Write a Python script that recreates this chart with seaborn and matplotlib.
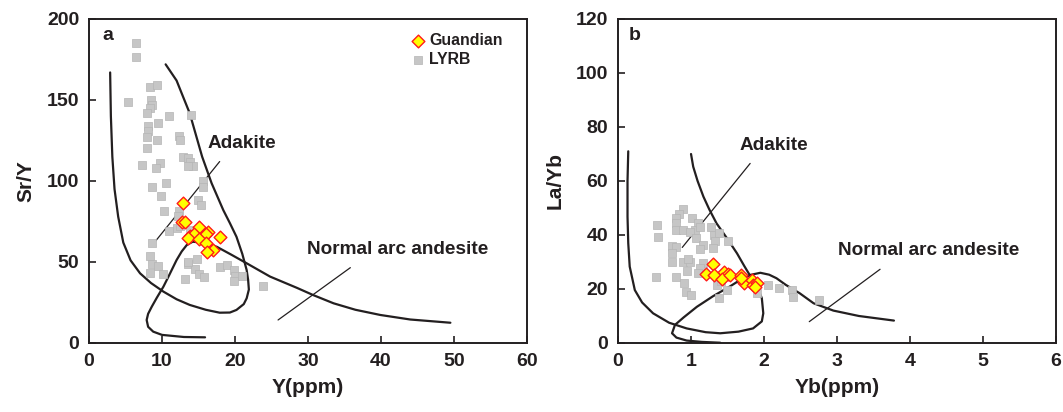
"""
Sr/Y vs Y and La/Yb vs Yb discrimination diagrams (adakite vs normal arc andesite)
"""
import matplotlib
matplotlib.use("Agg")
import matplotlib.pyplot as plt
import pandas as pd
import seaborn as sns

# ─ Data ───────────────────────────────────────────────────────────────────── #
# panel a : Y (ppm) vs Sr/Y
guan_y = [12.9, 12.7, 13.15, 15.1, 16.35, 16.0, 13.8, 14.4, 13.6, 15.1, 17.95, 16.0, 17.0, 16.1]
guan_sry = [86.2, 74.9, 74.5, 71.4, 68.7, 67.3, 66.2, 67.0, 64.6, 64.0, 65.2, 61.9, 57.4, 56.4]

lyrb_y = [6.5, 6.5, 8.4, 9.3, 5.4, 8.45, 8.7, 8.3, 7.9, 11.0, 14.0, 9.5, 8.1, 8.1, 7.9,
          9.3, 12.3, 12.5, 8.0, 12.9, 13.5, 13.8, 14.3, 13.6, 9.7, 9.2, 7.3, 15.6, 15.6,
          10.5, 8.7, 9.8, 14.9, 15.3, 10.3, 12.3, 12.2, 10.9, 12.0, 12.5, 13.8, 8.7, 8.4,
          8.7, 9.5, 8.4, 10.1, 13.5, 14.8, 14.5, 15.1, 15.8, 13.2, 17.9, 18.9, 19.9, 20.0,
          20.9, 19.9, 23.9, 13.6]
lyrb_sry = [185.4, 176.3, 158, 159, 149, 150, 147, 145, 142, 140, 141, 136, 134, 131, 127,
            125, 128, 125, 120.6, 114.6, 114, 112, 109, 109, 111, 108, 110, 100, 96.5,
            99, 96.5, 91, 88, 85, 81.7, 81.5, 78.6, 69.3, 70.8, 72, 69.8, 62, 53.7,
            48.5, 47.5, 43.4, 42.6, 48.8, 51.6, 45.4, 42.6, 40.5, 39.3, 46.7, 48.1, 45, 41.4,
            41.4, 38.5, 35.2, 50]

# field boundaries, panel a
adk_a_x = [2.9, 3.0, 3.2, 3.5, 4.0, 4.7, 5.7, 7.0, 8.5, 10.2, 12.0, 13.8, 16.0, 17.9, 19.3,
           20.2, 21.2, 21.6, 21.9, 21.8, 21.6, 21.0, 20.2, 19.3, 18.4, 16.8, 15.5, 13.8,
           12.8, 12.0, 10.5]
adk_a_y = [167, 140, 115, 95, 78, 62, 51, 43, 37, 31.7, 27, 23.5, 20.5, 18.7, 18.8,
           20.4, 24, 27.6, 33, 38.9, 45, 55, 65.6, 74, 82, 98.6, 115, 141.8,
           153, 162, 172]
arc_a_x = [15.9, 13.0, 10.0, 8.8, 8.1, 7.9, 8.1, 8.6, 9.3, 10.2, 11.0, 12.0, 12.7, 13.4,
           14.2, 15.5, 17.5, 19.5, 21.6, 24.8, 28.5, 30.7, 33.5, 36.5, 39.9, 44.0, 49.5]
arc_a_y = [3.5, 3.7, 5.0, 7.0, 10.0, 14.2, 18.0, 22.4, 28.0, 34.8, 42.0, 51.2, 56.5, 60.5,
           62.5, 62.0, 59.4, 54.5, 49.2, 41.0, 34.0, 29.6, 24.5, 20.5, 17.3, 14.5, 12.5]
tie_adk_a_x, tie_adk_a_y = [8.6, 17.9], [60, 112]
tie_arc_a_x, tie_arc_a_y = [25.9, 35.8], [14.2, 46.5]

# panel b : Yb (ppm) vs La/Yb
guan_yb = [1.30, 1.21, 1.31, 1.45, 1.51, 1.43, 1.53, 1.68, 1.73, 1.83, 1.85, 1.90, 1.69, 1.87]
guan_layb = [29.3, 25.6, 25.2, 26.4, 25.6, 23.7, 25.2, 25.2, 22.1, 23.3, 21.5, 22.1, 24.0, 20.9]

lyrb_yb = [0.886, 0.83, 0.80, 0.80, 0.54, 0.79, 0.89, 1.02, 1.09, 1.05, 1.12, 1.27, 0.99,
           0.55, 1.07, 1.32, 1.39, 1.33, 1.51, 1.17, 1.30, 0.74, 0.80, 1.12, 0.74, 0.74,
           0.89, 0.99, 0.96, 1.17, 1.12, 0.94, 1.10, 0.52, 0.80, 0.91, 0.93, 1.00, 1.39,
           1.35, 1.49, 1.41, 1.90, 2.06, 2.20, 2.39, 2.40, 2.76]
lyrb_layb = [49.5, 47.7, 46.2, 44.3, 43.7, 41.9, 41.9, 46.4, 44.6, 41.9, 43.1, 43.1, 41.2,
             39.4, 38.8, 40.0, 40.6, 37.9, 37.9, 36.3, 35.1, 35.9, 35.7, 34.7, 33.2, 30.1,
             30.1, 30.1, 31.0, 29.5, 27.7, 26.8, 25.8, 24.6, 24.6, 22.3, 19.0, 17.8, 16.6,
             21.5, 19.6, 23.0, 18.4, 21.5, 20.2, 19.6, 17.1, 15.9]

adk_b_x = [0.14, 0.13, 0.13, 0.14, 0.16, 0.23, 0.33, 0.48, 0.70, 0.94, 1.20, 1.40, 1.65,
           1.85, 1.97, 1.99, 1.97, 1.92, 1.83, 1.73, 1.63, 1.50, 1.35, 1.25, 1.17, 1.09,
           1.03, 1.00]
adk_b_y = [71, 60, 46.8, 37, 28.3, 19.6, 15, 11, 7.5, 5.4, 4.0, 3.6, 4.2,
           5.4, 8, 11, 16.6, 20, 24, 28.5, 33.2, 38.5, 44.3, 49.5, 54.2, 60,
           65.3, 70]
arc_b_x = [1.40, 1.15, 0.94, 0.80, 0.74, 0.78, 0.90, 1.08, 1.30, 1.53, 1.70, 1.81, 1.95,
           2.07, 2.17, 2.30, 2.49, 2.68, 2.95, 3.30, 3.78]
arc_b_y = [0.1, 0.4, 0.9, 2.0, 3.6, 6.7, 9.5, 13.4, 17.3, 20.9, 23.8, 25.2, 26.0,
           25.3, 24.0, 21.5, 18.4, 14.7, 12.0, 10.0, 8.3]
tie_adk_b_x, tie_adk_b_y = [0.88, 1.81], [35.4, 66.5]
tie_arc_b_x, tie_arc_b_y = [2.62, 3.59], [7.9, 27.3]

# ─ Style ──────────────────────────────────────────────────────────────────── #
TXT = "#231f20"
GRAY = "#c6c6c6"
sns.set_theme(style="ticks")
plt.rcParams["font.family"] = ["Liberation Sans", "DejaVu Sans"]
plt.rcParams.update({
    "font.weight": "bold",
    "axes.labelweight": "bold",
    "text.color": TXT,
    "axes.labelcolor": TXT,
    "axes.edgecolor": TXT,
    "xtick.color": TXT,
    "ytick.color": TXT,
    "axes.linewidth": 1.4,
})

fig = plt.figure(figsize=(10.63, 4.12), dpi=100)
ax_a = fig.add_axes([0.0837, 0.1675, 0.4121, 0.7864])
ax_b = fig.add_axes([0.5814, 0.1675, 0.4120, 0.7864])


def draw_panel(ax, gx, gy, lx, ly, adk_x, adk_y, arc_x, arc_y, tie1, tie2):
    dfl = pd.DataFrame({"x": lx, "y": ly})
    dfg = pd.DataFrame({"x": gx, "y": gy})
    sns.scatterplot(data=dfl, x="x", y="y", ax=ax, marker="s", s=36, color=GRAY,
                    edgecolor="#b5b5b5", linewidth=0.5, label="LYRB", zorder=3)
    sns.scatterplot(data=dfg, x="x", y="y", ax=ax, marker="D", s=42, color="#ffff00",
                    edgecolor="#ff1a1a", linewidth=1.0, label="Guandian", zorder=4)
    ax.plot(adk_x, adk_y, color=TXT, lw=1.6, zorder=2)
    ax.plot(arc_x, arc_y, color=TXT, lw=1.6, zorder=2)
    for tx, ty in (tie1, tie2):
        ax.plot(tx, ty, color=TXT, lw=0.9, zorder=2)
    ax.tick_params(direction="in", length=5, width=1.2, labelsize=14, pad=7)
    for sp in ax.spines.values():
        sp.set_visible(True)


draw_panel(ax_a, guan_y, guan_sry, lyrb_y, lyrb_sry, adk_a_x, adk_a_y, arc_a_x, arc_a_y,
           (tie_adk_a_x, tie_adk_a_y), (tie_arc_a_x, tie_arc_a_y))
draw_panel(ax_b, guan_yb, guan_layb, lyrb_yb, lyrb_layb, adk_b_x, adk_b_y, arc_b_x, arc_b_y,
           (tie_adk_b_x, tie_adk_b_y), (tie_arc_b_x, tie_arc_b_y))

ax_a.set_xlim(0, 60)
ax_a.set_ylim(0, 200)
ax_a.set_xticks(range(0, 61, 10))
ax_a.set_yticks(range(0, 201, 50))
ax_a.set_xlabel("Y(ppm)", fontsize=15, labelpad=6)
ax_a.set_ylabel("Sr/Y", fontsize=15, labelpad=8)

ax_b.set_xlim(0, 6)
ax_b.set_ylim(0, 120)
ax_b.set_xticks(range(0, 7))
ax_b.set_yticks(range(0, 121, 20))
ax_b.set_xlabel("Yb(ppm)", fontsize=15, labelpad=6)
ax_b.set_ylabel("La/Yb", fontsize=15, labelpad=8)

for ax in (ax_a, ax_b):
    for lab in ax.get_xticklabels() + ax.get_yticklabels():
        lab.set_fontweight("bold")

# annotations
ax_a.text(0.03, 0.95, "a", transform=ax_a.transAxes, fontsize=14, fontweight="bold", va="center")
ax_b.text(0.025, 0.95, "b", transform=ax_b.transAxes, fontsize=14, fontweight="bold", va="center")
ax_a.text(16.3, 123, "Adakite", fontsize=13.7, fontweight="bold", va="center")
ax_a.text(29.8, 57.8, "Normal arc andesite", fontsize=13.7, fontweight="bold", va="center")
ax_b.text(1.67, 73.3, "Adakite", fontsize=13.7, fontweight="bold", va="center")
ax_b.text(3.02, 34.2, "Normal arc andesite", fontsize=13.7, fontweight="bold", va="center")

# legend only on panel a, Guandian first
h, l = ax_a.get_legend_handles_labels()
ax_a.legend(h[::-1], l[::-1], loc="upper left", bbox_to_anchor=(0.715, 0.975), frameon=False,
            fontsize=11.4, handletextpad=0.1, labelspacing=0.25, borderaxespad=0,
            handlelength=1.2)
ax_b.get_legend().remove()

fig.savefig("out.png", dpi=100)
